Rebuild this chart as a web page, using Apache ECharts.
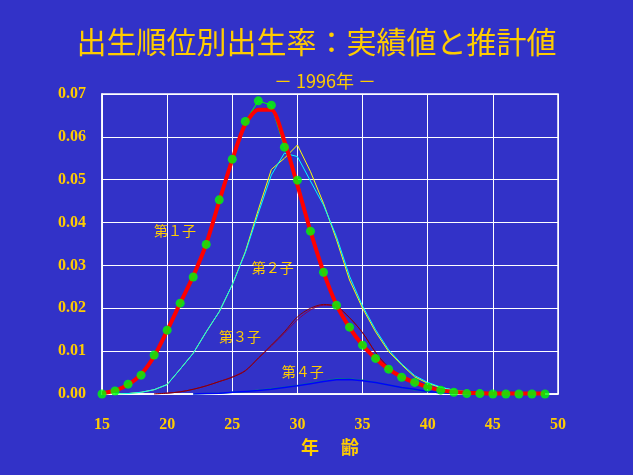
<!DOCTYPE html>
<html><head><meta charset="utf-8">
<script src="https://cdn.jsdelivr.net/npm/echarts@6/dist/echarts.min.js"></script>
<style>html,body{margin:0;padding:0;background:#3232C8}#c{width:633px;height:475px}</style>
</head><body><div id="c"></div>
<script>
// ages 15..49
const ages = [15,16,17,18,19,20,21,22,23,24,25,26,27,28,29,30,31,32,33,34,35,36,37,38,39,40,41,42,43,44,45,46,47,48,49];
const xTicks = [15,20,25,30,35,40,45,50];
const yTicks = [0,0.01,0.02,0.03,0.04,0.05,0.06,0.07];
// 第1子 actual (green dots)
const first_actual = [0.0000,0.0007,0.0023,0.0044,0.0091,0.0149,0.0212,0.0273,0.0349,0.0453,0.0548,0.0636,0.0684,0.0674,0.0576,0.0499,0.0380,0.0284,0.0207,0.0156,0.0114,0.0083,0.0058,0.0039,0.0027,0.0016,0.0009,0.0004,0.0001,0.0001,0.0000,0.0000,0.0000,0.0000,0.0000];
// 第1子 estimated (red)
const first_est = [0.0002,0.0008,0.0022,0.0046,0.0088,0.0148,0.0212,0.0275,0.0350,0.0450,0.0547,0.0630,0.0663,0.0663,0.0590,0.0487,0.0380,0.0285,0.0208,0.0155,0.0114,0.0083,0.0058,0.0040,0.0027,0.0016,0.0009,0.0005,0.0003,0.0002,0.0001,0.0001,0.0001,0.0001,0.0001];
// 第2子 (yellow / cyan)
const second_a = [null,0.0000,0.0001,0.0004,0.0010,0.0022,0.0058,0.0095,0.0145,0.0192,0.0255,0.0332,0.0430,0.0524,0.0550,0.0581,0.0519,0.0445,0.0360,0.0266,0.0200,0.0145,0.0099,0.0068,0.0040,0.0025,0.0015,0.0009,0.0005,0.0003,0.0001,null,null,null,null];
const second_b = [null,0.0000,0.0001,0.0004,0.0010,0.0022,0.0058,0.0095,0.0145,0.0192,0.0255,0.0330,0.0422,0.0511,0.0562,0.0554,0.0497,0.0441,0.0367,0.0275,0.0205,0.0150,0.0103,0.0070,0.0043,0.0027,0.0016,0.0009,0.0005,0.0003,0.0001,null,null,null,null];
// 第3子 (maroon pair)
const third_a = [null,null,null,null,0.0000,0.0002,0.0005,0.0011,0.0019,0.0029,0.0039,0.0054,0.0084,0.0114,0.0145,0.0180,0.0200,0.0209,0.0204,0.0178,0.0143,0.0097,0.0062,0.0040,0.0025,0.0016,0.0009,0.0005,0.0002,0.0001,0.0000,null,null,null,null];
const third_b = [null,null,null,null,0.0000,0.0002,0.0005,0.0011,0.0019,0.0029,0.0040,0.0055,0.0083,0.0112,0.0142,0.0173,0.0196,0.0207,0.0204,0.0178,0.0143,0.0097,0.0062,0.0040,0.0025,0.0016,0.0009,0.0005,0.0002,0.0001,0.0000,null,null,null,null];
// 第4子 (blue / teal)
const fourth_a = [null,null,null,null,null,null,null,0.0000,0.0001,0.0002,0.0004,0.0006,0.0008,0.0011,0.0015,0.0019,0.0024,0.0029,0.0033,0.0034,0.0031,0.0027,0.0021,0.0015,0.0011,0.0006,0.0003,0.0002,0.0001,0.0000,null,null,null,null,null];
const fourth_b = [null,null,null,null,null,null,null,0.0000,0.0001,0.0002,0.0004,0.0006,0.0009,0.0012,0.0016,0.0020,0.0025,0.0030,0.0035,0.0035,0.0032,0.0027,0.0021,0.0015,0.0010,0.0006,0.0003,0.0002,0.0001,0.0000,null,null,null,null,null];
const seriesLabels = ['第１子','第２子','第３子','第４子'];

const pair = arr => ages.map((a,i)=>[a, arr[i]]);
const gold = '#FFCC00';
const lblStyle = {show:true, position:'inside', color:gold, fontSize:14, fontFamily:'Noto Sans CJK JP'};
function mp(text, coord){
  return {symbol:'circle', symbolSize:0, silent:true, animation:false,
    label:Object.assign({}, lblStyle, {formatter:text}), data:[{coord:coord}]};
}
const chart = echarts.init(document.getElementById('c'), null, {renderer:'canvas'});
chart.setOption({
  animation:false,
  backgroundColor:'#3232C8',
  title:[
    {text:'出生順位別出生率：実績値と推計値', left:'center', top:22,
     textStyle:{color:gold, fontSize:30, fontWeight:'normal', fontFamily:'Noto Sans CJK JP'}},
    {text:'－ 1996年 －', left:320, textAlign:'center', top:67,
     textStyle:{color:gold, fontSize:18, fontWeight:'normal', fontFamily:'Noto Sans CJK JP'}}
  ],
  grid:{left:102, right:75, top:94, bottom:81, show:true, borderColor:'#FFFFFF', borderWidth:1.5, backgroundColor:'transparent'},
  xAxis:{type:'value', min:xTicks[0], max:xTicks[xTicks.length-1], interval:5,
    name:'年　 齢', nameLocation:'middle', nameGap:35,
    nameTextStyle:{color:gold, fontSize:18, fontWeight:'bold', fontFamily:'Noto Sans CJK JP'},
    axisLine:{lineStyle:{color:'#FFFFFF', width:1.5}}, axisTick:{show:false},
    axisLabel:{color:gold, fontSize:16, fontWeight:'bold', fontFamily:'Liberation Serif', margin:23},
    splitLine:{lineStyle:{color:'#FFFFFF', width:1}}},
  yAxis:{type:'value', min:yTicks[0], max:yTicks[yTicks.length-1], interval:0.01,
    axisLine:{show:true, lineStyle:{color:'#FFFFFF', width:1.5}}, axisTick:{show:false},
    axisLabel:{color:gold, fontSize:16, fontWeight:'bold', fontFamily:'Liberation Serif', margin:16,
      formatter:v=>v.toFixed(2)},
    splitLine:{lineStyle:{color:'#FFFFFF', width:1}}},
  series:[
    {type:'line', data:pair(second_a), showSymbol:false, lineStyle:{color:'#FFFF00', width:1}, z:2, markPoint:mp(seriesLabels[1],[28.1,0.0294])},
    {type:'line', data:pair(second_b), showSymbol:false, lineStyle:{color:'#00FFFF', width:1}, z:2},
    {type:'line', data:pair(third_b), showSymbol:false, smooth:0.3, lineStyle:{color:'#880050', width:1}, z:2, markPoint:mp(seriesLabels[2],[25.6,0.0133])},
    {type:'line', data:pair(third_a), showSymbol:false, smooth:0.3, lineStyle:{color:'#8B0000', width:1}, z:2},
    {type:'line', data:pair(fourth_b), showSymbol:false, lineStyle:{color:'#008080', width:1.5}, z:2, markPoint:mp(seriesLabels[3],[30.4,0.0051])},
    {type:'line', data:pair(fourth_a), showSymbol:false, lineStyle:{color:'#0000FF', width:1.5}, z:2},
    {type:'line', data:pair(first_actual), showSymbol:false, lineStyle:{color:'#00FF00', width:1}, z:3, markPoint:mp(seriesLabels[0],[20.6,0.038])},
    {type:'line', data:pair(first_est), showSymbol:false, smooth:0.25, lineStyle:{color:'#FF0000', width:4}, z:4},
    {type:'scatter', data:pair(first_actual), symbol:'circle', symbolSize:9, itemStyle:{color:'#00FF00'}, z:5}
  ]
});
</script></body></html>
